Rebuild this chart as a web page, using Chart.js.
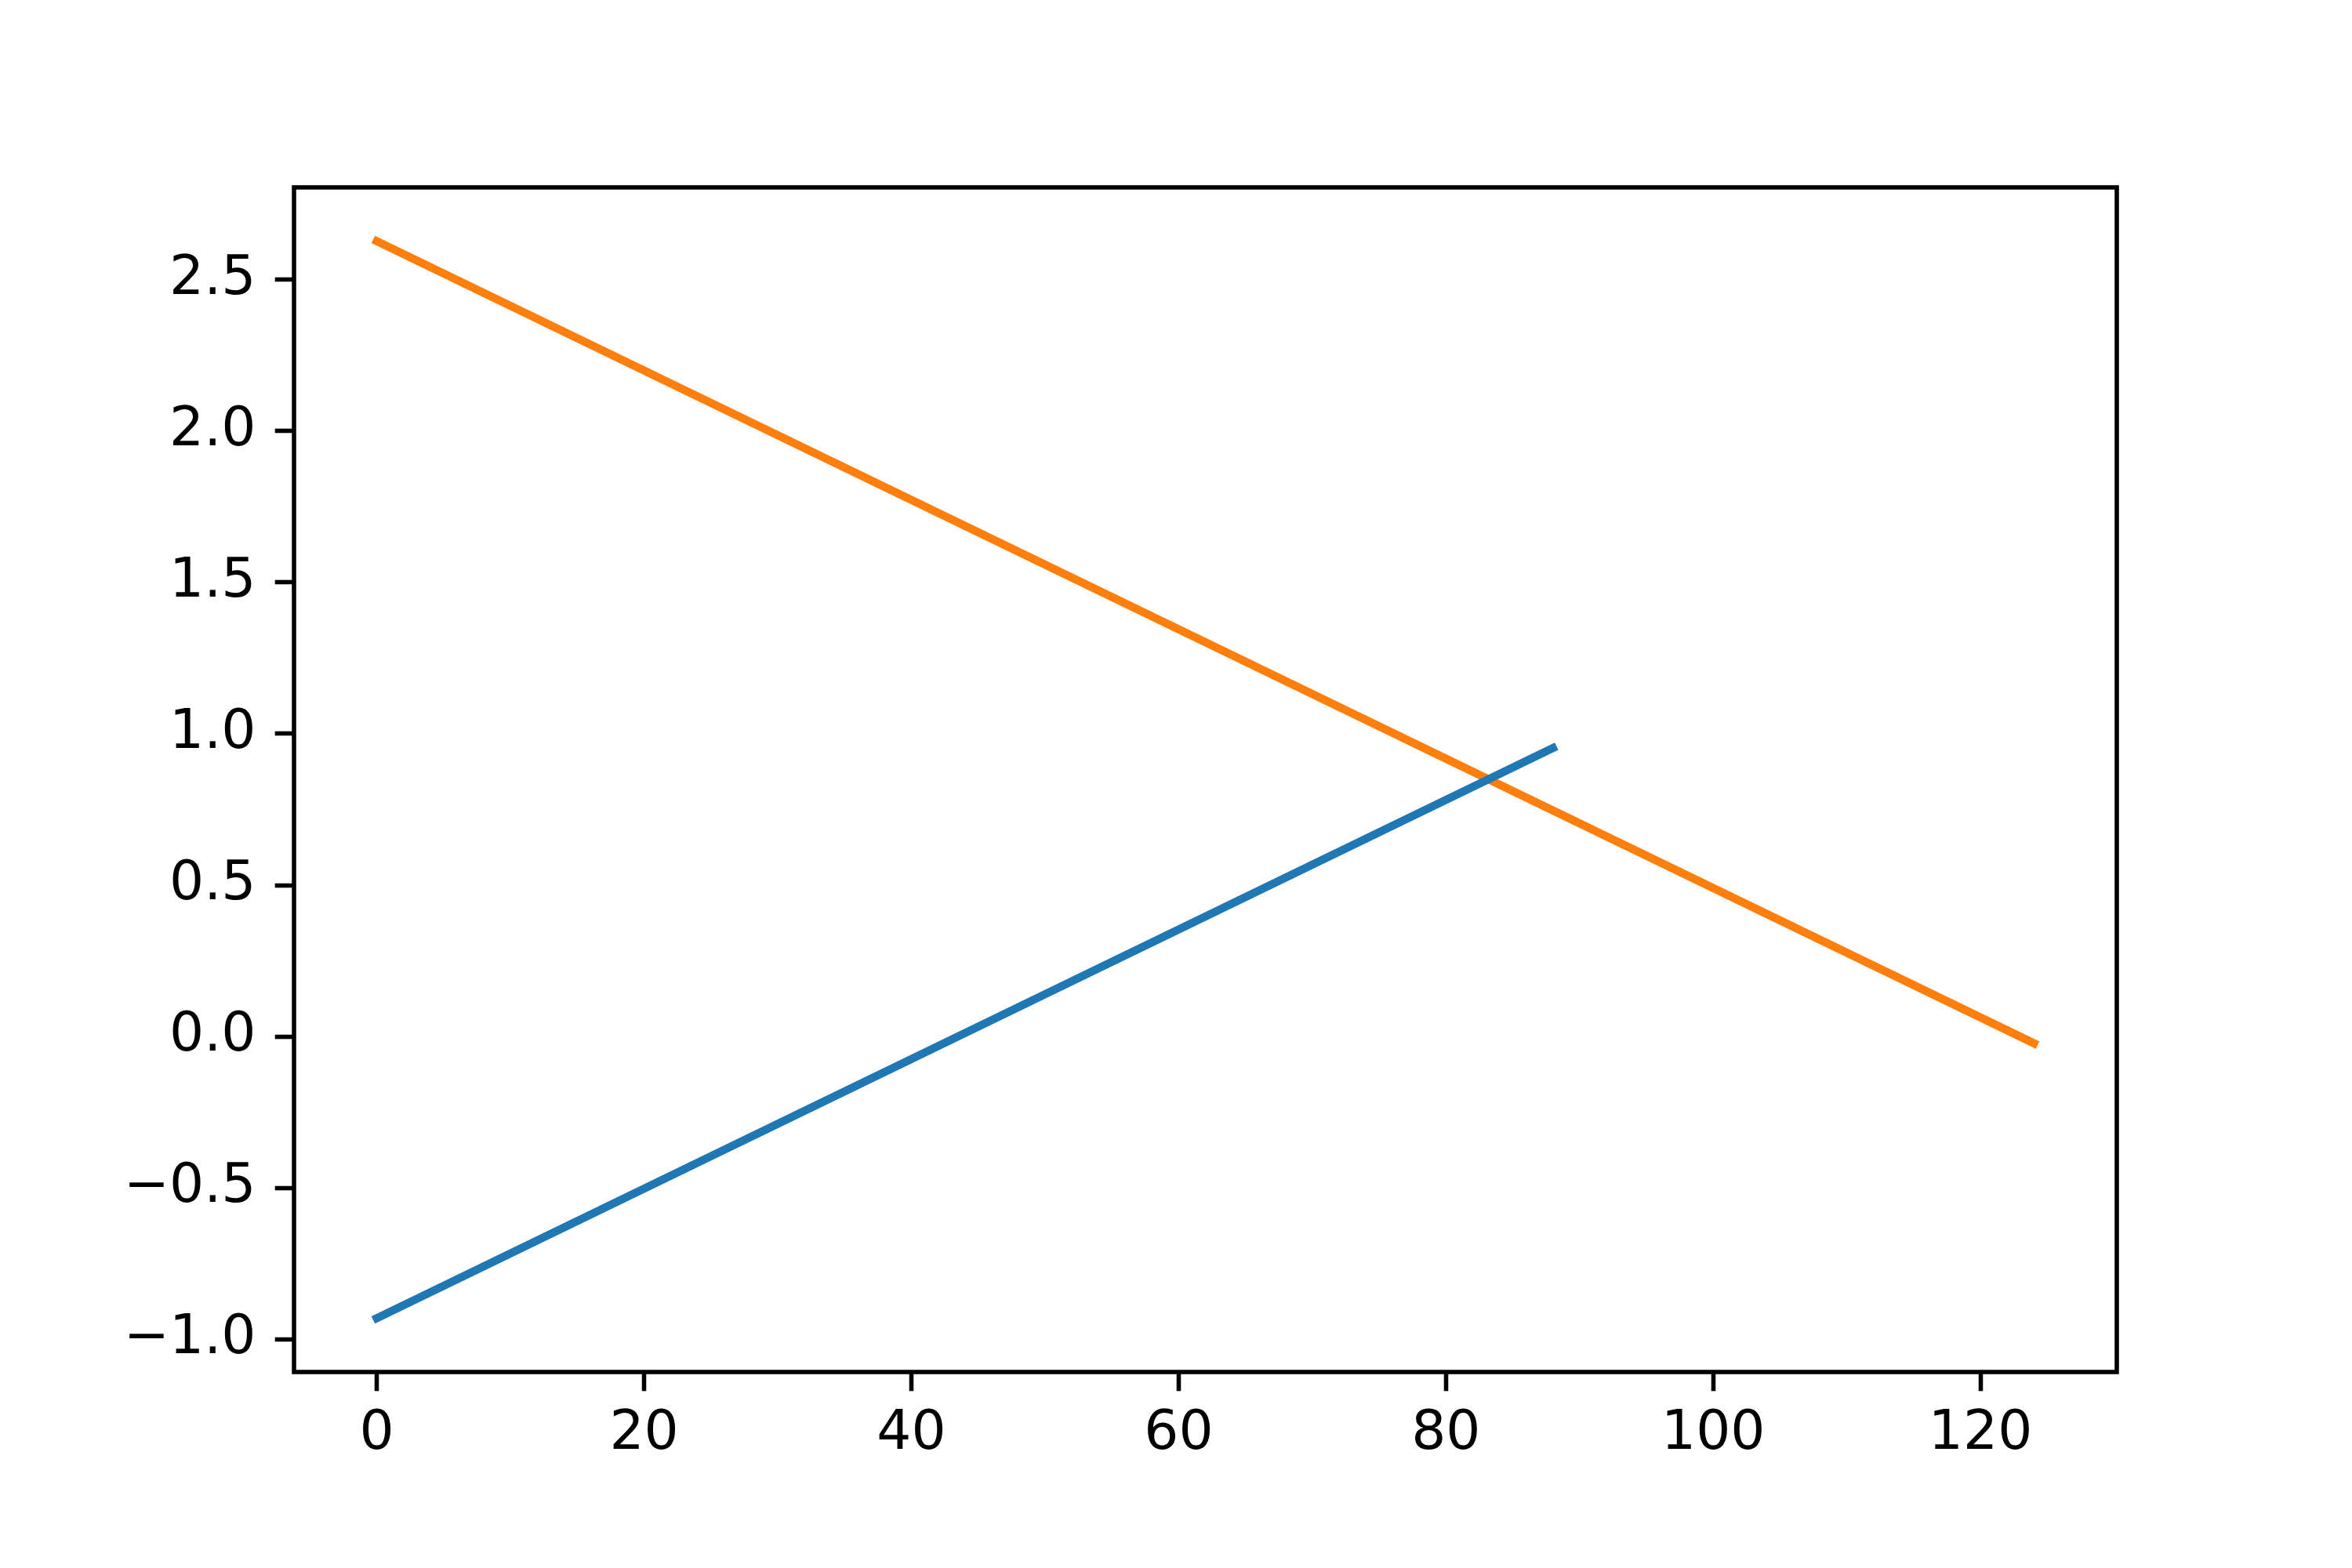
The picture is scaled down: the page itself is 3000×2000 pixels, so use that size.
<!DOCTYPE html>
<html><head><meta charset="utf-8">
<script src="https://cdn.jsdelivr.net/npm/chart.js@4/dist/chart.umd.min.js"></script>
<style>html,body{margin:0;padding:0;background:#fff;}canvas{display:block;}</style>
</head><body>
<canvas id="c" width="3000" height="2000"></canvas>
<script>
// Data
const blueX = [0, 88];
const blueY = [-0.930, 0.953];
const orangeX = [0, 124];
const orangeY = [2.627, -0.022];
const xTicks = [0, 20, 40, 60, 80, 100, 120];
const yTicks = [-1.0, -0.5, 0.0, 0.5, 1.0, 1.5, 2.0, 2.5];

const toPts = (xs, ys) => xs.map((x, i) => ({x: x, y: ys[i]}));

// axis limits with 5% margins like matplotlib
const allX = blueX.concat(orangeX), allY = blueY.concat(orangeY);
const xMin0 = Math.min(...allX), xMax0 = Math.max(...allX);
const yMin0 = Math.min(...allY), yMax0 = Math.max(...allY);
const xPad = (xMax0 - xMin0) * 0.05, yPad = (yMax0 - yMin0) * 0.05;

const PX = 500 / 72;
const LW = 1.5 * PX, SPINE = 0.8 * PX, TICKLEN = 3.5 * PX, FONT = 10 * PX;

const frame = {
  id: 'frame',
  afterDraw(chart) {
    const a = chart.chartArea, ctx = chart.ctx;
    ctx.save();
    ctx.strokeStyle = '#000';
    ctx.lineWidth = SPINE;
    ctx.lineJoin = 'miter';
    ctx.strokeRect(a.left, a.top, a.right - a.left, a.bottom - a.top);
    ctx.restore();
  }
};

new Chart(document.getElementById('c'), {
  type: 'scatter',
  data: {
    datasets: [
      {data: toPts(blueX, blueY), showLine: true, borderColor: '#1f77b4', backgroundColor: '#1f77b4',
       borderWidth: LW, pointRadius: 0, borderCapStyle: 'square', tension: 0},
      {data: toPts(orangeX, orangeY), showLine: true, borderColor: '#ff7f0e', backgroundColor: '#ff7f0e',
       borderWidth: LW, pointRadius: 0, borderCapStyle: 'square', tension: 0}
    ]
  },
  options: {
    responsive: false,
    devicePixelRatio: 1,
    animation: false,
    layout: {padding: {top: 239, right: 300, left: 0, bottom: 0}},
    plugins: {legend: {display: false}, tooltip: {enabled: false}},
    scales: {
      x: {
        type: 'linear', min: xMin0 - xPad, max: xMax0 + xPad,
        afterBuildTicks: s => { s.ticks = xTicks.map(v => ({value: v})); },
        afterFit: s => { s.height = 2000 - 1750; },
        border: {display: false},
        grid: {display: true, drawOnChartArea: false, drawTicks: true, tickLength: TICKLEN, tickWidth: SPINE, color: '#000'},
        ticks: {color: '#000', padding: TICKLEN - 10, maxRotation: 0, autoSkip: false,
                font: {family: 'DejaVu Sans', size: FONT},
                callback: v => String(v)}
      },
      y: {
        type: 'linear', min: yMin0 - yPad, max: yMax0 + yPad,
        afterBuildTicks: s => { s.ticks = yTicks.map(v => ({value: v})); },
        afterFit: s => { s.width = 375; },
        border: {display: false},
        grid: {display: true, drawOnChartArea: false, drawTicks: true, tickLength: TICKLEN, tickWidth: SPINE, color: '#000'},
        ticks: {color: '#000', padding: TICKLEN, autoSkip: false,
                font: {family: 'DejaVu Sans', size: FONT},
                callback: v => v.toFixed(1).replace('-', '\u2212')}
      }
    }
  },
  plugins: [frame]
});
</script>
</body></html>
